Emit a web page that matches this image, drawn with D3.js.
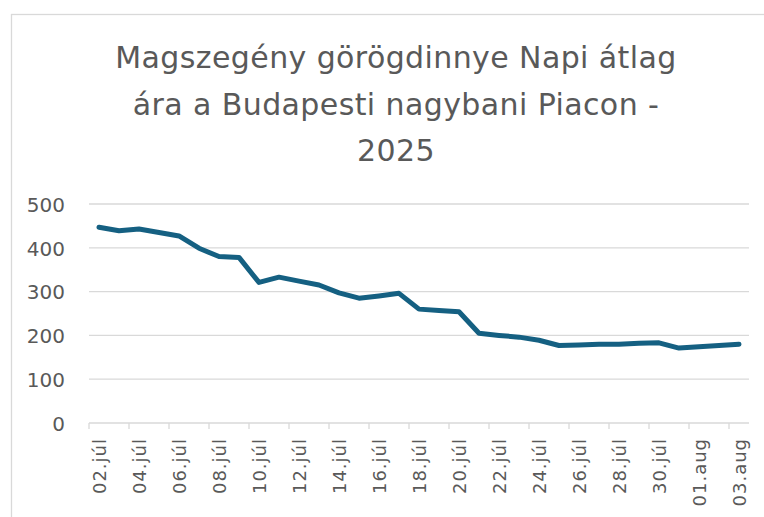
<!DOCTYPE html>
<html lang="hu">
<head>
  <meta charset="UTF-8" />
  <title>Magszegény görögdinnye napi átlagár</title>
  <script src="https://d3js.org/d3.v7.min.js"></script>
  <style>
    body {
      margin: 0;
      background: #fff;
      font-family: "DejaVu Sans", sans-serif;
    }

    svg {
      display: block;
    }

    .grid line {
      stroke: #d9d9d9;
      stroke-width: 1.3px;
    }

    .tick text {
      fill: #595959;
    }
  </style>
</head>
<body>
  <svg id="chart" width="764" height="517"></svg>

  <script>
    // dátumok (kategóriák)
    const days = [
      "02.júl", "03.júl", "04.júl", "05.júl", "06.júl", "07.júl", "08.júl", "09.júl",
      "10.júl", "11.júl", "12.júl", "13.júl", "14.júl", "15.júl", "16.júl", "17.júl",
      "18.júl", "19.júl", "20.júl", "21.júl", "22.júl", "23.júl", "24.júl", "25.júl",
      "26.júl", "27.júl", "28.júl", "29.júl", "30.júl", "31.júl", "01.aug", "02.aug", "03.aug"
    ];

    // napi átlagár (Ft/kg)
    const prices = [
      447, 439, 443, 435, 427, 399, 380, 378,
      321, 333, 324, 315, 297, 285, 290, 296,
      260, 257, 254, 205, 200, 196, 189, 177,
      178, 180, 180, 182, 183, 171, 174, 177, 180
    ];

    const yTicks = [0, 100, 200, 300, 400, 500];

    const titleLines = [
      "Magszegény görögdinnye Napi átlag",
      "ára a Budapesti nagybani Piacon -",
      "2025"
    ];

    const svg = d3.select("#chart");
    const margin = { top: 204, right: 15, bottom: 94, left: 89 };
    const width = 764 - margin.left - margin.right;
    const height = 517 - margin.top - margin.bottom;

    // keret
    svg.append("rect")
      .attr("x", 11.5)
      .attr("y", 14.5)
      .attr("width", 770)
      .attr("height", 520)
      .attr("fill", "none")
      .attr("stroke", "#d9d9d9")
      .attr("stroke-width", 1.3);

    // cím
    svg.append("g")
      .selectAll("text")
      .data(titleLines)
      .join("text")
      .attr("x", 396)
      .attr("y", (d, i) => 68 + i * 46.5)
      .attr("text-anchor", "middle")
      .attr("fill", "#595959")
      .attr("font-size", 30)
      .attr("letter-spacing", 0.4)
      .text(d => d);

    const g = svg.append("g")
      .attr("transform", `translate(${margin.left},${margin.top})`);

    const x = d3.scaleBand()
      .domain(days)
      .range([0, width]);

    const y = d3.scaleLinear()
      .domain([0, 500])
      .range([height, 0]);

    // vízszintes rácsvonalak
    g.append("g")
      .attr("class", "grid")
      .selectAll("line")
      .data(yTicks.filter(d => d > 0))
      .join("line")
      .attr("x1", 0)
      .attr("x2", width)
      .attr("y1", d => y(d))
      .attr("y2", d => y(d));

    // y tengely
    const yAxis = g.append("g")
      .attr("transform", "translate(-24,0)")
      .call(d3.axisLeft(y).tickValues(yTicks).tickSize(0).tickPadding(0));
    yAxis.select(".domain").remove();
    yAxis.selectAll("text")
      .attr("font-size", 20)
      .attr("font-family", "'DejaVu Sans', sans-serif")
      .attr("dy", "0.36em");

    // x tengely: osztásjelek minden második kategória határán
    const xAxisG = g.append("g")
      .attr("transform", `translate(0,${height})`);

    xAxisG.append("line")
      .attr("x1", 0)
      .attr("x2", width)
      .attr("stroke", "#d9d9d9")
      .attr("stroke-width", 1.3);

    const tickDays = days.filter((d, i) => i % 2 === 0);

    xAxisG.selectAll(".xtick")
      .data(tickDays)
      .join("line")
      .attr("class", "xtick")
      .attr("x1", d => x(d))
      .attr("x2", d => x(d))
      .attr("y1", 0)
      .attr("y2", 6)
      .attr("stroke", "#d9d9d9")
      .attr("stroke-width", 1.3);

    xAxisG.selectAll(".xlabel")
      .data(tickDays)
      .join("text")
      .attr("class", "xlabel")
      .attr("transform", d => `translate(${x(d) + x.bandwidth() / 2 + 1},15) rotate(-90)`)
      .attr("text-anchor", "end")
      .attr("dy", "0.36em")
      .attr("fill", "#595959")
      .attr("font-size", 18)
      .attr("letter-spacing", 1)
      .text(d => d);

    // vonal
    const line = d3.line()
      .x((d, i) => x(days[i]) + x.bandwidth() / 2)
      .y(d => y(d));

    g.append("path")
      .datum(prices)
      .attr("fill", "none")
      .attr("stroke", "#156082")
      .attr("stroke-width", 5)
      .attr("stroke-linejoin", "round")
      .attr("stroke-linecap", "round")
      .attr("d", line);
  </script>
</body>
</html>
